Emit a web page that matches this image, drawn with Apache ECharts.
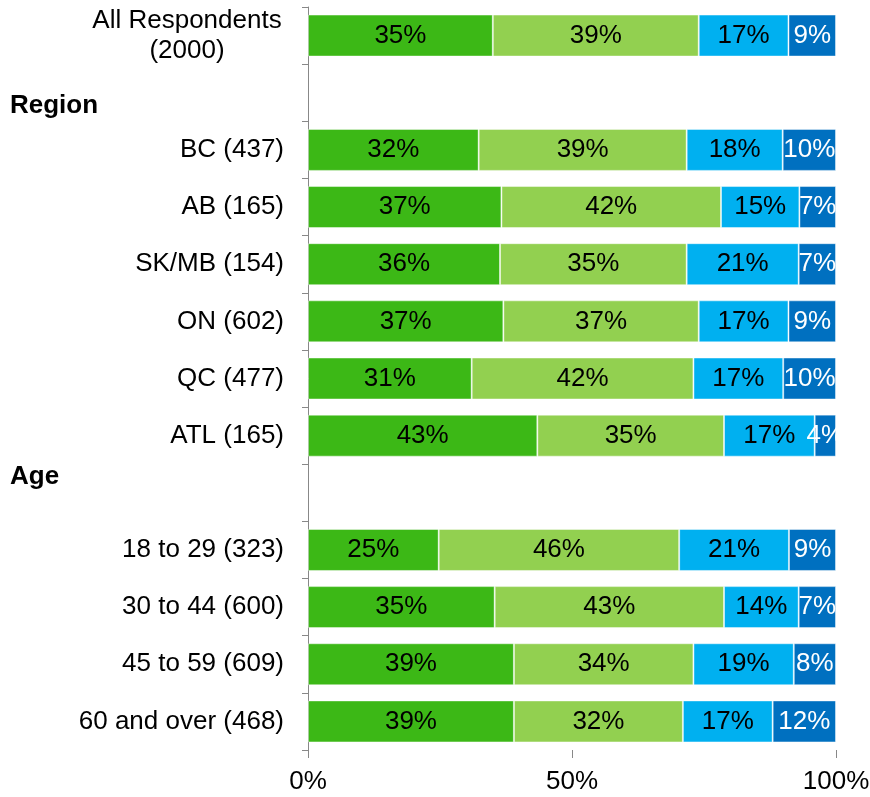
<!DOCTYPE html>
<html>
<head>
<meta charset="utf-8">
<script src="https://cdn.jsdelivr.net/npm/echarts@6/dist/echarts.min.js"></script>
<style>
  html, body { margin: 0; padding: 0; background: #fff; }
  #main { width: 870px; height: 797px; }
</style>
</head>
<body>
<div id="main"></div>
<script>
// rows top to bottom; '' rows are the group header gaps
var categories = ['All Respondents\n(2000)', '', 'BC (437)', 'AB (165)', 'SK/MB (154)', 'ON (602)',
    'QC (477)', 'ATL (165)', '', '18 to 29 (323)', '30 to 44 (600)', '45 to 59 (609)', '60 and over (468)'];
var seriesA = [35, null, 32, 37, 36, 37, 31, 43, null, 25, 35, 39, 39];
var seriesB = [39, null, 39, 42, 35, 37, 42, 35, null, 46, 43, 34, 32];
var seriesC = [17, null, 18, 15, 21, 17, 17, 17, null, 21, 14, 19, 17];
var seriesD = [9, null, 10, 7, 7, 9, 10, 4, null, 9, 7, 8, 12];
var xTicks = [0, 50, 100];

var groups = [seriesA, seriesB, seriesC, seriesD];
var colors = ['#3cb816', '#92d050', '#00b0f0', '#0070c0'];
var labelColors = ['#000', '#000', '#000', '#fff'];
var FONT = 'Liberation Sans';

// bars fill 100% like the original, labels keep the rounded numbers
function share(arr) {
    return arr.map(function (v, i) {
        if (v == null) return null;
        var tot = 0;
        groups.forEach(function (g) { tot += g[i]; });
        return v / tot * 100;
    });
}

var chart = echarts.init(document.getElementById('main'));

var series = groups.map(function (g, k) {
    return {
        name: 'S' + (k + 1),
        type: 'bar',
        stack: 'total',
        barWidth: 42,
        data: share(g),
        itemStyle: {
            color: colors[k],
            borderColor: 'rgba(255,255,255,0.45)',
            borderWidth: 1
        },
        label: {
            show: true,
            position: 'inside',
            color: labelColors[k],
            fontFamily: FONT,
            fontSize: 26,
            formatter: function (p) {
                return g[p.dataIndex] + '%';
            }
        }
    };
});

var option = {
    animation: false,
    grid: { left: 308, right: 34, top: 7, bottom: 47, outerBoundsMode: 'none', containLabel: false },
    xAxis: {
        type: 'value',
        min: 0,
        max: 100,
        interval: 50,
        axisLine: { show: false },
        axisTick: { show: true, length: 8, lineStyle: { color: '#888' } },
        splitLine: { show: false },
        axisLabel: {
            margin: 19,
            fontFamily: FONT,
            fontSize: 26,
            color: '#000',
            formatter: function (v) { return xTicks.indexOf(v) >= 0 ? v + '%' : ''; }
        }
    },
    yAxis: {
        type: 'category',
        inverse: true,
        data: categories,
        axisLine: { show: true, lineStyle: { color: '#888' } },
        axisTick: { show: true, length: 6, lineStyle: { color: '#888' } },
        axisLabel: {
            margin: 24,
            fontFamily: FONT,
            fontSize: 26,
            color: '#000',
            formatter: function (v) {
                if (v.indexOf('\n') >= 0) {
                    return v.split('\n').map(function (s) { return '{c|' + s + '}'; }).join('\n');
                }
                return v;
            },
            rich: {
                c: { width: 194, align: 'center', fontSize: 26, lineHeight: 30,
                     fontFamily: FONT, color: '#000' }
            }
        }
    },
    graphic: [
        { type: 'text', left: 10, top: 93,
          style: { text: 'Region', fontFamily: FONT, fontSize: 26, fontWeight: 'bold', fill: '#000' } },
        { type: 'text', left: 10, top: 464,
          style: { text: 'Age', fontFamily: FONT, fontSize: 26, fontWeight: 'bold', fill: '#000' } }
    ],
    series: series
};

chart.setOption(option);
</script>
</body>
</html>
